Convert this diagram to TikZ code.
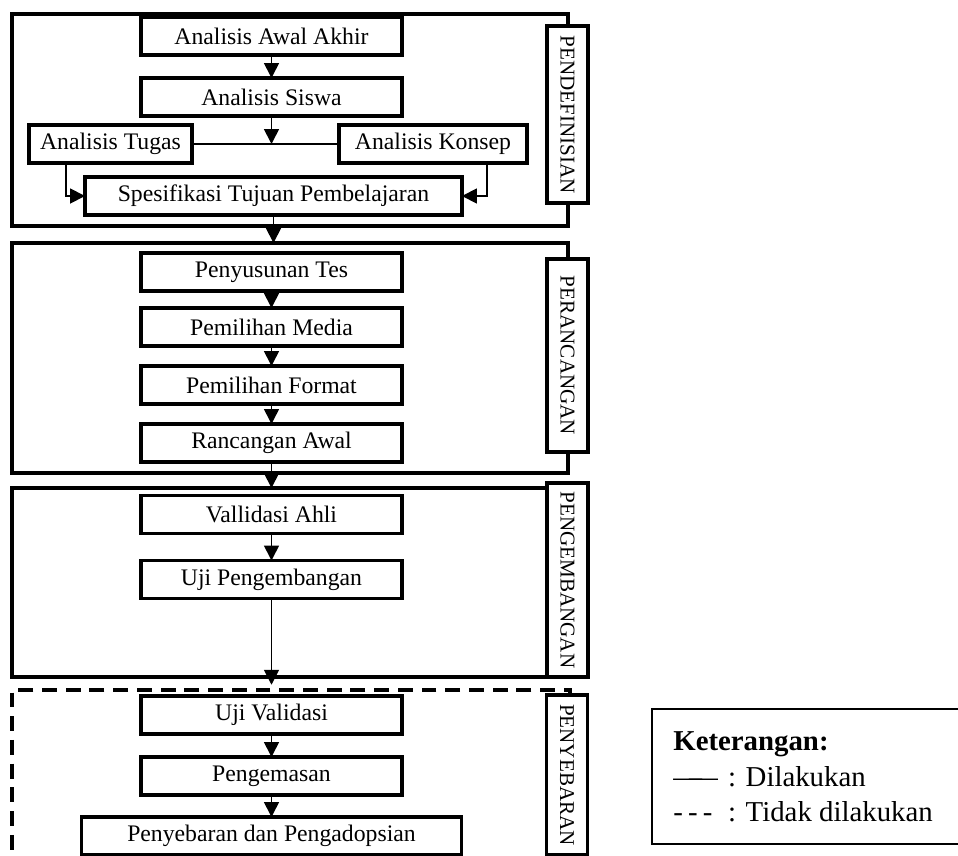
\documentclass[tikz,border=0pt]{standalone}
\usepackage{fontspec}
\setmainfont{Liberation Serif}
\usepackage{tikz}
\usetikzlibrary{positioning,arrows.meta}

\begin{document}
\begin{tikzpicture}[x=0.02cm, y=-0.02cm,
    box/.style={draw, line width=2pt, outer sep=0pt, inner sep=2pt, minimum width=5.22cm, minimum height=0.76cm, align=center, font=\fontsize{13.5}{16}\selectfont},
    frame/.style={draw, line width=2pt, outer sep=0pt, minimum width=11.12cm},
    phase/.style={draw, fill=white, line width=2pt, outer sep=0pt, inner sep=0pt, rotate=-90, minimum height=0.82cm, font=\fontsize{12}{14}\selectfont},
    arr/.style={->, >={Triangle[width=8.5pt,length=8.5pt]}, line width=1pt}]

    \useasboundingbox (0,0) rectangle (958,856);
    \clip (0,0) rectangle (958,856);

    % 
    \node[frame, minimum height=4.24cm] (fdef) at (290,120) {};
    \node[frame, minimum height=4.6cm] (fran) at (290,358) {};
    \node[frame, minimum height=3.78cm] (fkem) at (290,582.5) {};
    \node[frame, dashed, dash pattern=on 8.5pt off 5pt, line width=2.3pt, minimum width=11.16cm, minimum height=4.2cm] (fseb) at (291,795) {};

    % 
    \node[phase, minimum width=3.54cm] (ldef) at (567.5,114.5) {PENDEFINISIAN};
    \node[phase, minimum width=3.86cm] (lran) at (567.5,355.5) {PERANCANGAN};
    \node[phase, minimum width=3.88cm] (lkem) at (567.5,580) {PENGEMBANGAN};
    \node[phase, minimum width=3.2cm] (lseb) at (567,775) {PENYEBARAN};

    % 
    \node[box] (aa) at (271.5,36) {Analisis Awal Akhir};
    \node[box] (siswa) [below=0.46cm of aa] {Analisis Siswa};
    \node[box, minimum width=3.26cm] (tugas) at (110.5,144) {Analisis Tugas};
    \node[box, minimum width=3.76cm] (konsep) at (433,144) {Analisis Konsep};
    \node[box, minimum width=7.54cm] (spes) at (273.5,196) {Spesifikasi Tujuan Pembelajaran};

    % 
    \node[box] (tes) at (271.5,272) {Penyusunan Tes};
    \node[box] (media) [below=0.34cm of tes] {Pemilihan Media};
    \node[box] (format) [below=0.4cm of media] {Pemilihan Format};
    \node[box] (rancang) [below=0.4cm of format] {Rancangan Awal};

    % 
    \node[box] (ahli) at (271.5,514.5) {Vallidasi Ahli};
    \node[box] (ujipeng) [below=0.54cm of ahli] {Uji Pengembangan};

    % 
    \node[box] (ujival) at (271.5,715) {Uji Validasi};
    \node[box] (kemas) [below=0.46cm of ujival] {Pengemasan};
    \node[box, minimum width=7.6cm] (sebar) [below=0.44cm of kemas] {Penyebaran dan Pengadopsian};

    % 
    \draw[arr] (aa) -- (siswa);
    \draw[line width=1pt] (tugas) -- (konsep);
    \draw[arr] (siswa) -- (siswa |- tugas.east);
    \draw[arr] ([xshift=0.74cm]tugas.south west) |- (spes.west);
    \draw[arr] ([xshift=-0.8cm]konsep.south east) |- (spes.east);
    \draw[arr] (spes) -- (spes |- fran.north);

    \draw[arr] (tes) -- (media);
    \draw[arr] (media) -- (format);
    \draw[arr] (format) -- (rancang);
    \draw[arr] (rancang) -- (rancang |- fkem.north);

    \draw[arr] (ahli) -- (ujipeng);
    \draw[arr, shorten >=3pt] (ujipeng) -- (ujipeng |- fseb.north);

    \draw[arr] (ujival) -- (kemas);
    \draw[arr] (kemas) -- (sebar);

    % 
    \draw[line width=0.6pt] (652,709) rectangle (975,844);
    \node[anchor=north west, inner sep=0pt, align=left, font=\fontsize{16.4}{20.4}\selectfont] (ket) at (673,731) {\textbf{Keterangan:}\\ \makebox[1.9em][l]{\textemdash\kern-0.45em\textemdash}: Dilakukan\\ \makebox[1.9em][l]{-\hspace{0.18em}-\hspace{0.18em}-}: Tidak dilakukan};

\end{tikzpicture}
\end{document}
